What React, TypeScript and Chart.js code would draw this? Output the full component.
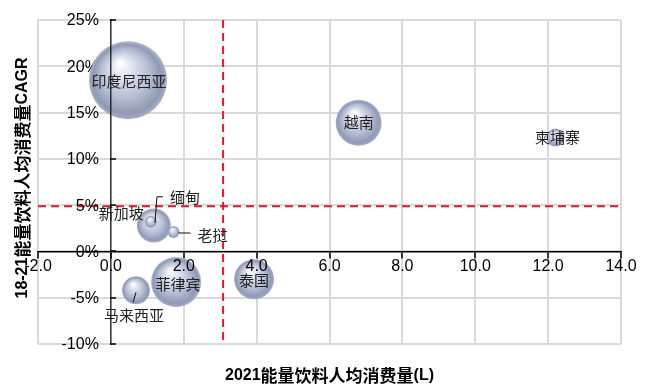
import React, { useEffect, useRef } from 'react';
import { Chart, registerables } from 'chart.js';

Chart.register(...registerables);

// ---- data ----
const countries = ['印度尼西亚', '越南', '柬埔寨', '新加坡', '缅甸', '老挝', '菲律宾', '泰国', '马来西亚'];
const perCapita2021 = [0.47, 6.8, 12.2, 1.18, 1.1, 1.72, 1.79, 3.93, 0.69]; // L
const cagr1821 = [18.5, 13.9, 12.3, 2.8, 3.2, 2.1, -3.3, -3.0, -4.2]; // %
const bubbleRadius = [39, 23, 9, 17, 6, 6, 25, 20, 14];
const xMin = -2, xMax = 14, xStep = 2;
const yMin = -10, yMax = 25, yStep = 5;
const avgPerCapita = 3.08;
const avgCagr = 4.88;
const xTitleParts = [['2021', 'b'], ['能量饮料人均消费量', 'c'], ['(L)', 'b']];
const yTitleParts = [['18-21', 'b'], ['能量饮料人均消费量', 'c'], ['CAGR', 'b']];

// ---- label layout (offsets from bubble centre, px) ----
const labelLayout: Record<string, { dx: number; dy: number; align: CanvasTextAlign; leader?: number[][] }> = {
  '印度尼西亚': { dx: 1, dy: 1, align: 'center' },
  '越南': { dx: 0, dy: 0, align: 'center' },
  '柬埔寨': { dx: 2, dy: 0, align: 'center' },
  '缅甸': { dx: 19, dy: -25, align: 'left', leader: [[4, 1], [6, -25], [12, -25]] },
  '新加坡': { dx: -10, dy: -12, align: 'right' },
  '老挝': { dx: 24, dy: 3, align: 'left', leader: [[5, 1], [17, 1]] },
  '菲律宾': { dx: 2, dy: 2, align: 'center' },
  '泰国': { dx: 0, dy: 1, align: 'center' },
  '马来西亚': { dx: -2, dy: 25, align: 'center', leader: [[-3, 12], [0, 2]] },
};

const LATIN = "'Liberation Sans', Arial, sans-serif";
const CJK = "'Noto Sans CJK SC', sans-serif";

function fontFor(kind: string) {
  return kind === 'b' ? `bold 16px ${LATIN}` : `bold 17px ${CJK}`;
}

function drawParts(ctx: CanvasRenderingContext2D, parts: string[][], cx: number, cy: number) {
  let total = 0;
  const widths = parts.map(([t, k]) => {
    ctx.font = fontFor(k);
    const w = ctx.measureText(t).width;
    total += w;
    return w;
  });
  let x = cx - total / 2;
  parts.forEach(([t, k], i) => {
    ctx.font = fontFor(k);
    ctx.fillText(t, x, cy);
    x += widths[i];
  });
}

const zeroPad = (scale: any) => {
  scale.paddingTop = 0;
  scale.paddingBottom = 0;
  scale.paddingLeft = 0;
  scale.paddingRight = 0;
};

const decorPlugin = {
  id: 'decor',
  beforeDatasetsDraw(chart: any) {
    const { ctx, chartArea, scales } = chart;
    const px = scales.x.getPixelForValue(avgPerCapita);
    const py = scales.y.getPixelForValue(avgCagr);
    ctx.save();
    ctx.strokeStyle = '#d81b33';
    ctx.lineWidth = 2;
    ctx.setLineDash([8, 5]);
    ctx.beginPath();
    ctx.moveTo(px, chartArea.top);
    ctx.lineTo(px, chartArea.bottom);
    ctx.moveTo(chartArea.left, py);
    ctx.lineTo(chartArea.right, py);
    ctx.stroke();
    ctx.restore();
    // y tick labels, left of the y axis
    const ys = scales.y;
    const axisX = scales.x.getPixelForValue(0);
    ctx.save();
    ctx.font = `16px ${LATIN}`;
    ctx.fillStyle = '#000';
    ctx.textAlign = 'right';
    ctx.textBaseline = 'middle';
    ys.ticks.forEach((t: any) => {
      ctx.fillText(`${t.value}%`, axisX - 12, ys.getPixelForValue(t.value) + 1);
    });
    ctx.restore();
  },
  afterDatasetsDraw(chart: any) {
    const { ctx } = chart;
    const meta = chart.getDatasetMeta(0);
    ctx.save();
    ctx.textBaseline = 'middle';
    ctx.fillStyle = '#222';
    ctx.strokeStyle = '#111';
    ctx.lineWidth = 1;
    ctx.font = `15px ${CJK}`;
    meta.data.forEach((el: any, i: number) => {
      const name = countries[i];
      const lay = labelLayout[name];
      if (lay.leader) {
        ctx.beginPath();
        lay.leader.forEach(([dx, dy], j) => {
          if (j === 0) ctx.moveTo(el.x + dx, el.y + dy);
          else ctx.lineTo(el.x + dx, el.y + dy);
        });
        ctx.stroke();
      }
      ctx.textAlign = lay.align;
      ctx.fillText(name, el.x + lay.dx, el.y + lay.dy);
    });
    ctx.restore();
  },
  afterDraw(chart: any) {
    const { ctx, chartArea } = chart;
    ctx.save();
    ctx.fillStyle = '#000';
    ctx.textBaseline = 'middle';
    ctx.textAlign = 'left';
    drawParts(ctx, xTitleParts, (chartArea.left + chartArea.right) / 2, 376);
    ctx.translate(23, (chartArea.top + chartArea.bottom) / 2 - 4);
    ctx.rotate(-Math.PI / 2);
    drawParts(ctx, yTitleParts, 0, 0);
    ctx.restore();
  },
};

function sphereFill(c: any) {
  const chart = c.chart;
  const raw = c.raw;
  const fallback = '#b5bdd3';
  if (!raw || !chart.scales || !chart.scales.x || !chart.scales.y) return fallback;
  const cx = chart.scales.x.getPixelForValue(raw.x);
  const cy = chart.scales.y.getPixelForValue(raw.y);
  const r = raw.r;
  if (![cx, cy, r].every((v) => Number.isFinite(v))) return fallback;
  const g = chart.ctx.createRadialGradient(cx - r * 0.2, cy - r * 0.45, r * 0.04, cx, cy + r * 0.03, r);
  g.addColorStop(0, '#ffffff');
  g.addColorStop(0.25, '#dce1ed');
  g.addColorStop(0.62, '#b4bcd3');
  g.addColorStop(0.88, '#909ab5');
  g.addColorStop(1, '#a8b0c8');
  return g;
}

export default function App() {
  const ref = useRef<HTMLCanvasElement>(null);
  useEffect(() => {
    const data = countries.map((_, i) => ({ x: perCapita2021[i], y: cagr1821[i], r: bubbleRadius[i] }));
    const chart = new Chart(ref.current!, {
      type: 'bubble',
      data: {
        datasets: [
          {
            data,
            backgroundColor: sphereFill as any,
            borderWidth: 0,
            hoverRadius: 0,
          },
        ],
      },
      options: {
        animation: false,
        responsive: false,
        events: [],
        layout: { autoPadding: false, padding: { left: 38, right: 29, top: 20, bottom: 44 } },
        plugins: { legend: { display: false }, tooltip: { enabled: false } },
        scales: {
          x: {
            type: 'linear',
            min: xMin,
            max: xMax,
            position: { y: 0 } as any,
            afterFit: zeroPad,
            ticks: {
              stepSize: xStep,
              callback: (v: any) => Number(v).toFixed(1),
              font: { family: LATIN, size: 16 },
              color: '#000',
              padding: 0,
              z: 1,
            },
            grid: { color: '#d9d9d9', lineWidth: 2, tickColor: '#000', tickLength: 6, tickWidth: 1.5 },
            border: { color: '#000', width: 1.5 },
          },
          y: {
            type: 'linear',
            min: yMin,
            max: yMax,
            position: { x: 0 } as any,
            afterFit: zeroPad,
            ticks: {
              stepSize: yStep,
              display: false,
            },
            grid: { color: '#d9d9d9', lineWidth: 2, tickColor: '#000', tickLength: -6, tickWidth: 1.5 },
            border: { color: 'rgba(0,0,0,0.75)', width: 1.5, z: 1 },
          },
        },
      },
      plugins: [decorPlugin],
    });
    return () => chart.destroy();
  }, []);
  return (
    <div style={{ position: 'absolute', left: 0, top: 0, width: 650, height: 388, background: '#fff' }}>
      <canvas ref={ref} width={650} height={388} style={{ display: 'block' }} />
    </div>
  );
}
